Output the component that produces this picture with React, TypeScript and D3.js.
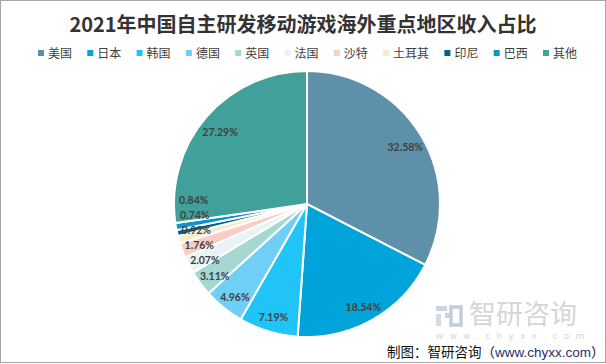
import { useEffect, useRef } from "react";
import * as d3 from "d3";

const regions = ["美国", "日本", "韩国", "德国", "英国", "法国", "沙特", "土耳其", "印尼", "巴西", "其他"];
const shares = [32.58, 18.54, 7.19, 4.96, 3.11, 2.07, 1.76, 0.92, 0.74, 0.84, 27.29];
const colors = [
  "#5E91A9", "#01A3DB", "#21C4F7", "#6FCFF4", "#A5D8D3", "#E8F4F4",
  "#F7CDC6", "#FBEAC6", "#02628A", "#0A94CF", "#41A09A",
];

const W = 606;
const H = 364;
const CJK = "'Noto Sans CJK SC', 'Noto Sans', sans-serif";

export default function App() {
  const svgRef = useRef<SVGSVGElement>(null);

  useEffect(() => {
    if (!svgRef.current) return;
    const svg = d3.select(svgRef.current);
    svg.selectAll("*").remove();

    // background + frame
    svg.append("rect").attr("width", W).attr("height", H).attr("fill", "#fff");
    svg.append("rect")
      .attr("x", 0.5).attr("y", 0.5)
      .attr("width", W - 1).attr("height", H - 2)
      .attr("fill", "none").attr("stroke", "#A6A6A6");

    // Title
    svg.append("text")
      .attr("x", 303).attr("y", 32)
      .attr("text-anchor", "middle")
      .attr("font-family", CJK)
      .attr("font-weight", 700)
      .attr("font-size", 20)
      .attr("fill", "#333")
      .text("2021年中国自主研发移动游戏海外重点地区收入占比");

    // Legend
    const legend = svg.append("g").attr("transform", "translate(38,53)");
    let lx = 0;
    regions.forEach((r, i) => {
      const item = legend.append("g").attr("transform", `translate(${lx},0)`);
      item.append("rect").attr("x", 0).attr("y", -3).attr("width", 6).attr("height", 6).attr("fill", colors[i]);
      item.append("text")
        .attr("x", 10).attr("y", 4.5)
        .attr("font-family", CJK).attr("font-size", 12).attr("fill", "#404040")
        .text(r);
      lx += 10 + r.length * 12 + 15.3;
    });

    // Pie
    const cx = 307, cy = 204, R = 133, labelR = 115;
    const pie = d3.pie<number>().sort(null).value((d) => d);
    const arcs = pie(shares);
    const arc = d3.arc<d3.PieArcDatum<number>>().innerRadius(0).outerRadius(R);

    const g = svg.append("g").attr("transform", `translate(${cx},${cy})`);
    g.selectAll("path")
      .data(arcs)
      .join("path")
      .attr("d", arc)
      .attr("fill", (_, i) => colors[i])
      .attr("stroke", "#fff")
      .attr("stroke-width", 2);

    // label positions with simple collision on the left side
    const pos = arcs.map((a) => {
      const m = (a.startAngle + a.endAngle) / 2;
      return { x: Math.sin(m) * labelR, y: -Math.cos(m) * labelR + 3, v: a.data };
    });
    const left = pos
      .map((p, i) => ({ p, i }))
      .filter((d) => d.i >= 3 && d.i <= 9)
      .sort((a, b) => b.p.y - a.p.y);
    let prev = Infinity;
    left.forEach((d) => {
      d.p.y = Math.min(d.p.y, prev - 15);
      prev = d.p.y;
    });

    g.selectAll("text.lbl")
      .data(pos)
      .join("text")
      .attr("class", "lbl")
      .attr("x", (d) => d.x)
      .attr("y", (d) => d.y + 4)
      .attr("text-anchor", "middle")
      .attr("font-family", "Lato, 'Open Sans', sans-serif")
      .attr("font-weight", 700)
      .attr("font-size", 10.5)
      .attr("fill", "#404040")
      .text((d) => `${d.v.toFixed(2)}%`);

    // Watermark
    const wm = svg.append("g");
    wm.append("rect").attr("x", 436).attr("y", 306).attr("width", 11).attr("height", 5).attr("fill", "#CBD4E3");
    wm.append("rect").attr("x", 436).attr("y", 314).attr("width", 5).attr("height", 12).attr("fill", "#D4DBE8");
    wm.append("rect").attr("x", 445).attr("y", 313).attr("width", 7).attr("height", 5).attr("fill", "#CBD4E3");
    wm.append("rect").attr("x", 451).attr("y", 307).attr("width", 10).attr("height", 18).attr("fill", "none")
      .attr("stroke", "#C2CDE0").attr("stroke-width", 3.5);
    wm.append("text")
      .attr("x", 469).attr("y", 324)
      .attr("font-family", CJK).attr("font-size", 27).attr("fill", "#D6D6D6")
      .text("智研咨询");
    wm.append("text")
      .attr("x", 436).attr("y", 339)
      .attr("font-family", "'DejaVu Sans', sans-serif").attr("font-size", 9)
      .attr("letter-spacing", 6.3).attr("fill", "#D6D6D6")
      .text("www.chyxx.com");

    // Source
    const src = svg.append("text")
      .attr("x", 387).attr("y", 357)
      .attr("font-family", CJK).attr("font-size", 13.5).attr("fill", "#111");
    src.append("tspan").text("制图：智研咨询（");
    src.append("tspan").attr("fill", "#1F2F6B").attr("font-family", "'Liberation Sans', Arial, sans-serif").text("www.chyxx.com");
    src.append("tspan").text("）");
  }, []);

  return (
    <svg
      ref={svgRef}
      width={W}
      height={H}
      style={{ position: "absolute", left: 0, top: 0 }}
    />
  );
}
